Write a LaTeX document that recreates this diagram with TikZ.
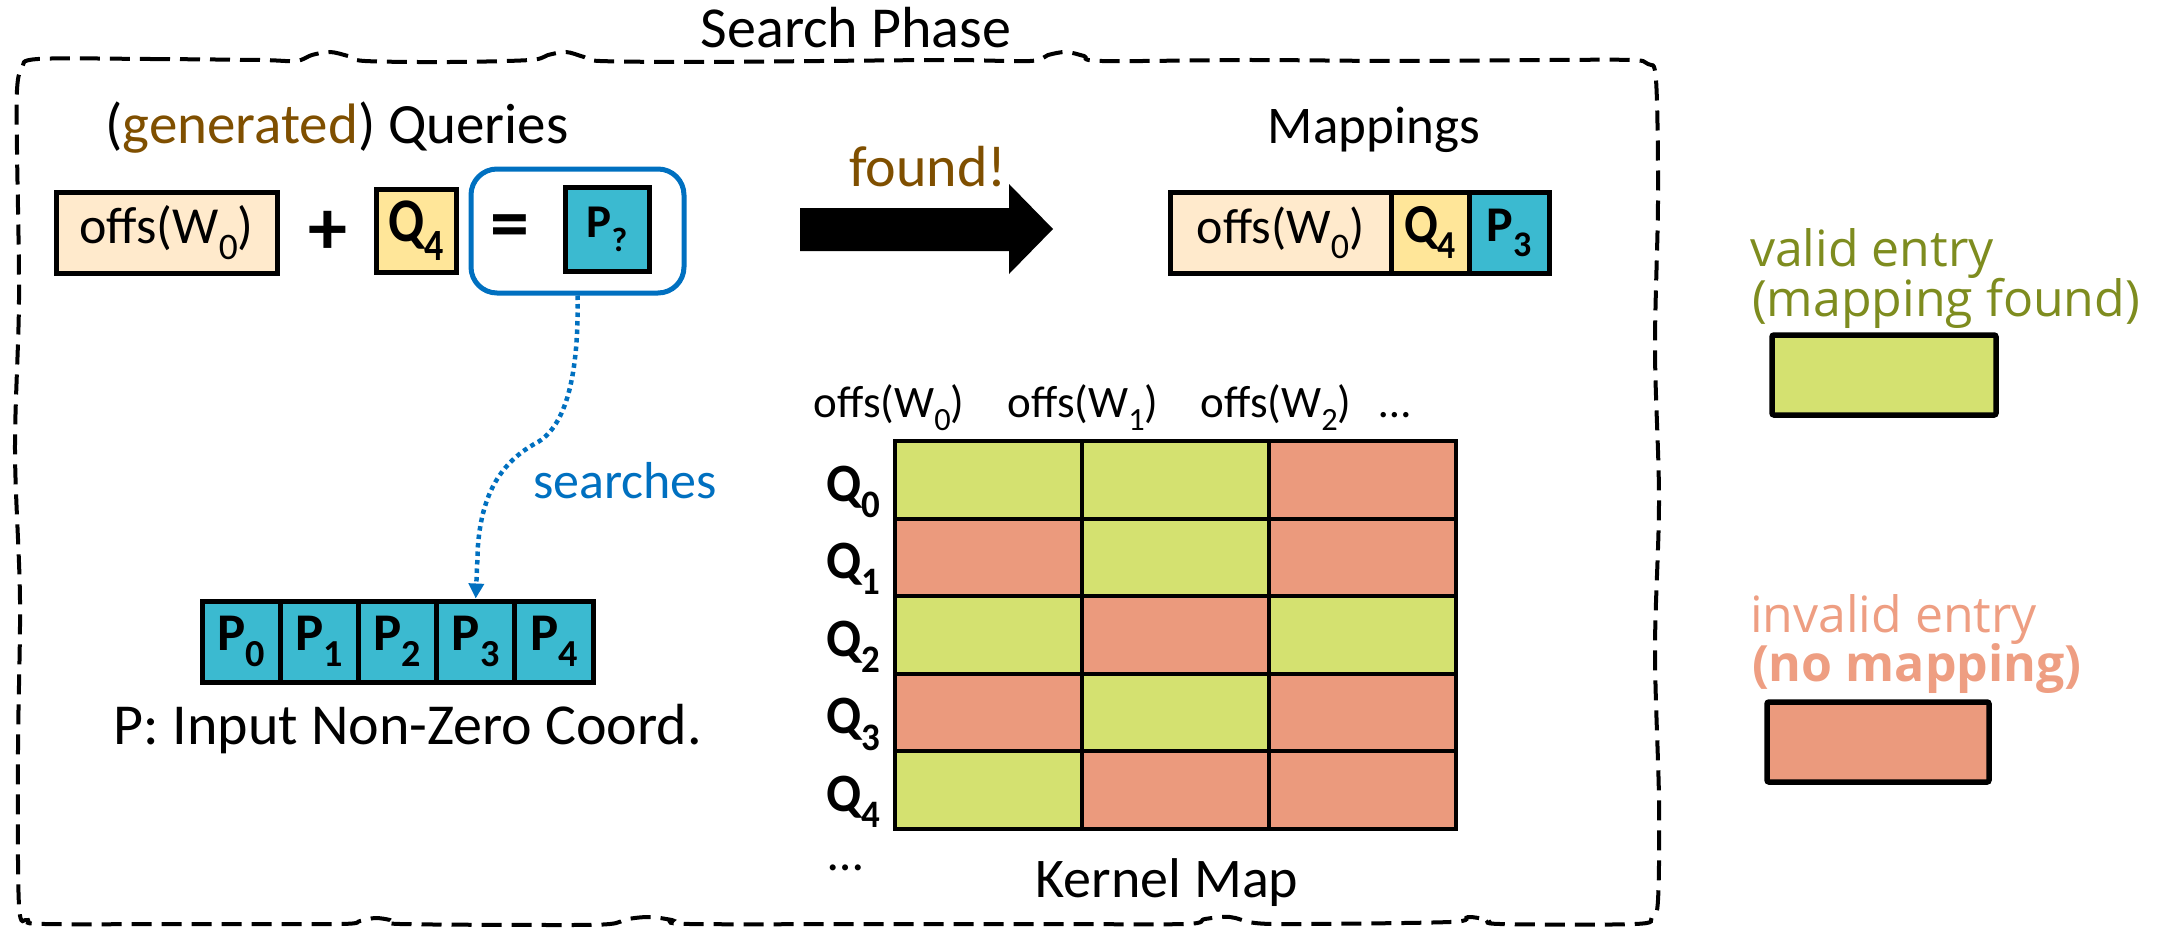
\documentclass[tikz,border=0pt]{standalone}
\usepackage{fontspec}
\setmainfont{Carlito}
\newfontfamily\legendfont{Open Sans}
\usetikzlibrary{arrows.meta}

\definecolor{peach}{HTML}{FFEACC}
\definecolor{qyellow}{HTML}{FFE699}
\definecolor{pteal}{HTML}{3BBAD0}
\definecolor{qblue}{HTML}{0070C0}
\definecolor{okgreen}{HTML}{D4E170}
\definecolor{nosalmon}{HTML}{EB9A7D}
\definecolor{genbrown}{HTML}{7F4F00}
\definecolor{olivetext}{HTML}{7E8C1F}
\definecolor{salmontext}{HTML}{EE9E82}

\newcommand\fsz[1]{\fontsize{#1}{#1}\selectfont}
\newcommand\lsub[1]{\raisebox{-0.3em}{\scalebox{0.72}{#1}}}
\newcommand\narrow[2]{\scalebox{#1}[1]{#2}}

\begin{document}
\begin{tikzpicture}[x=1pt,y=-1pt,
  txt/.style={inner sep=0pt, outer sep=0pt},
  cellbox/.style={draw=black, line width=5pt, inner sep=0pt, anchor=center},
  gridcell/.style={draw=black, line width=4pt, inner sep=0pt, minimum width=187, minimum height=77.6},
  pcell/.style={cellbox, fill=pteal, minimum width=78.2, minimum height=81},
  phaseline/.style={draw=black, line width=4pt, dash pattern=on 20pt off 10pt},
  searchline/.style={draw=qblue, line width=4.5pt, dash pattern=on 4.5pt off 4pt,
    -{Triangle[length=15pt,width=15pt]}},
  legtext/.style={txt, anchor=base west, font=\legendfont\fsz{50}}
]
\useasboundingbox (0,0) rectangle (2157,931);

% dashed outline of the search phase
\draw[phaseline] plot[smooth cycle, tension=0.55] coordinates {
 (38,59) (150,59) (260,60) (296,61) (312,55) (330,52) (348,56) (365,61) (450,62)
 (530,60) (548,55) (566,52) (584,57) (600,61) (700,62) (820,61) (950,60) (1030,61)
 (1048,55) (1066,52) (1084,56) (1102,61) (1250,60) (1400,61) (1550,60) (1630,60)
 (1648,64) (1656,80) (1658,200) (1655,350) (1659,500) (1655,650) (1659,800) (1658,900)
 (1652,917) (1635,924) (1500,924) (1488,920) (1468,917) (1450,922) (1300,924)
 (1255,923) (1230,917) (1205,919) (1185,924) (1050,924) (900,924) (690,924)
 (672,920) (650,917) (628,919) (610,924) (560,925) (400,924) (390,920) (375,918)
 (360,921) (340,924) (200,924) (45,924)
 (28,920) (19,905) (18,750) (20,600) (15,450) (19,300) (17,150) (17,90) (22,68)
};
\node[txt, anchor=base] (title) at (856,48) {\fsz{58}Search Phase};

% query generation
\node[txt, anchor=base] (qhead) at (337,143) {\fsz{57}(\textcolor{genbrown}{generated}) Queries};
\node[cellbox, fill=peach, minimum width=221, minimum height=81] (woff) at (166.5,232.5) {\fsz{52}offs(W\lsub{0})};
\node[txt] (plus) at (328,233) {\fsz{78}\bfseries +};
\node[cellbox, fill=qyellow, minimum width=80, minimum height=83] (q4) at (416,230.5) {\fsz{62}\bfseries\narrow{0.85}{Q\lsub{4}}};
\node[draw=qblue, line width=5pt, rounded corners=26pt, minimum width=213, minimum height=124] (blue) at (577.5,231) {};
\node[txt] (eq) at (510,232) {\fsz{78}\bfseries =};
\node[cellbox, fill=pteal, minimum width=84, minimum height=84] (pq) at (607,229) {\fsz{47}\bfseries P\lsub{?}};

% result arrow
\fill (800,208) -- (1009,208) -- (1009,184) -- (1053,229) -- (1009,274) -- (1009,251) -- (800,251) -- cycle;
\node[txt, anchor=base] (found) at (928,186) {\fsz{58}\textcolor{genbrown}{found!}};

% resulting mapping
\node[txt, anchor=base] (maphead) at (1374,143) {\fsz{53}Mappings};
\node[cellbox, fill=peach, minimum width=221, minimum height=81] (mw) at (1280.5,232.5) {\fsz{50}offs(W\lsub{0})};
\node[cellbox, fill=qyellow, minimum width=78, minimum height=81] (mq) at (1430,232.5) {\fsz{55}\bfseries\narrow{0.9}{Q\lsub{4}}};
\node[cellbox, fill=pteal, minimum width=80, minimum height=81] (mp) at (1509,232.5) {\fsz{50}\bfseries P\lsub{3}};

% input coordinates
\foreach \i in {0,...,4}
  \node[pcell] (p\i) at (241.1+78.2*\i,641.5) {\fsz{53}\bfseries P\lsub{\i}};
\node[txt, anchor=base] (pcap) at (408,744) {\fsz{58}P: Input Non-Zero Coord.};

\draw[searchline] (blue.south) .. controls (579,375) and (566,425) .. (538,442)
  .. controls (500,462) and (482,495) .. (478,545) -- (p3.north);
\node[txt, anchor=base] (srch) at (625,498) {\fsz{52}\textcolor{qblue}{searches}};

% kernel map
\node[txt, anchor=base] (h0) at (889,417) {\fsz{45}offs(W\lsub{0})};
\node[txt, anchor=base] (h1) at (1083,417) {\fsz{45}offs(W\lsub{1})};
\node[txt, anchor=base] (h2) at (1276,417) {\fsz{45}offs(W\lsub{2})};
\node[txt, anchor=base] (hdots) at (1395,417) {\fsz{45}…};

\foreach \r/\a/\b/\c in {0/okgreen/okgreen/nosalmon,
                         1/nosalmon/okgreen/nosalmon,
                         2/okgreen/nosalmon/okgreen,
                         3/nosalmon/okgreen/nosalmon,
                         4/okgreen/nosalmon/nosalmon} {
  \node[gridcell, fill=\a] (k\r-0) at (988.5,479.8+77.6*\r) {};
  \node[gridcell, fill=\b] (k\r-1) at (1175.5,479.8+77.6*\r) {};
  \node[gridcell, fill=\c] (k\r-2) at (1362.5,479.8+77.6*\r) {};
  \node[txt, anchor=base east] (ql\r) at (880,501+77.6*\r) {\fsz{54}\bfseries\narrow{0.95}{Q\lsub{\r}}};
}
\node[txt, anchor=base] (qdots) at (846,870) {\fsz{50}…};
\node[txt, anchor=base] (kcap) at (1167,897) {\fsz{56}Kernel Map};

% legend
\node[legtext, text=olivetext] (v1) at (1750,266) {valid entry};
\node[legtext, text=olivetext] (v2) at (1752,316) {(mapping found)};
\node[cellbox, fill=okgreen, line width=5.5pt, rounded corners=2pt, minimum width=224, minimum height=80] (vbox) at (1884,375) {};
\node[legtext, text=salmontext] (n1) at (1750,632) {invalid entry};
\node[legtext, text=salmontext] (n2) at (1752,681) {\bfseries (no mapping)};
\node[cellbox, fill=nosalmon, line width=5.5pt, rounded corners=2pt, minimum width=222, minimum height=80] (nbox) at (1878,742) {};
\end{tikzpicture}
\end{document}
